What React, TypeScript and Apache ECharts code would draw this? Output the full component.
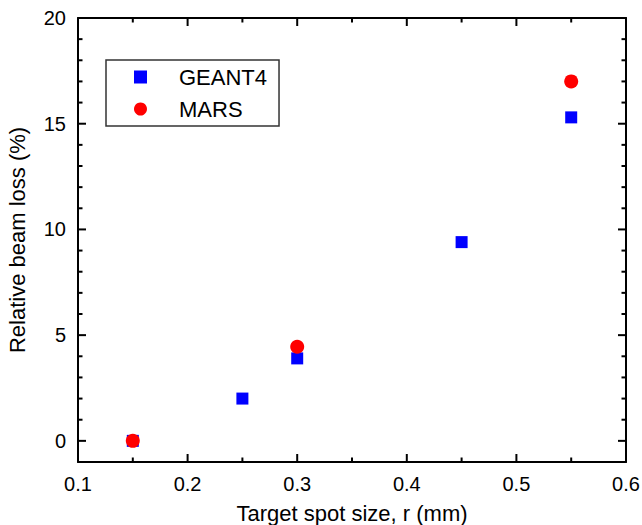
import React, { useEffect, useRef } from "react";
import * as echarts from "echarts";

const geantX = [0.15, 0.25, 0.3, 0.45, 0.55];
const geantY = [0, 2.0, 3.9, 9.4, 15.3];
const marsX = [0.15, 0.3, 0.55];
const marsY = [0, 4.45, 17.0];
const xMajorTicks = [0.1, 0.2, 0.3, 0.4, 0.5, 0.6];
const xMinorTicks = [0.15, 0.25, 0.35, 0.45, 0.55];
const yMajorTicks = [0, 5, 10, 15, 20];
const yMinorTicks = [-1, 1, 2, 3, 4, 6, 7, 8, 9, 11, 12, 13, 14, 16, 17, 18, 19];

const X_MIN = 0.1;
const X_MAX = 0.6;
const Y_MIN = -1;
const Y_MAX = 20;
const MAJOR_LEN = 8;
const MINOR_LEN = 4.5;

const FONT = "Liberation Sans, Arial, sans-serif";

export default function App() {
  const ref = useRef<HTMLDivElement>(null);
  useEffect(() => {
    document.body.style.margin = "0";
    if (!ref.current) return;
    const chart = echarts.init(ref.current, undefined, { renderer: "svg" });
    const axisLine = { show: true, onZero: false, lineStyle: { color: "#000", width: 2 } };
    const tickLine = { stroke: "#000", lineWidth: 2 };
    const xBase = {
      type: "value",
      min: X_MIN,
      max: X_MAX,
      interval: 0.1,
      axisLine,
      splitLine: { show: false },
      axisTick: { show: false },
    };
    const yBase = {
      type: "value",
      min: Y_MIN,
      max: Y_MAX,
      axisLine,
      splitLine: { show: false },
      axisTick: { show: false },
    };
    const xTickData = [
      ...xMajorTicks.map((v) => [v, 0, MAJOR_LEN]),
      ...xMinorTicks.map((v) => [v, 0, MINOR_LEN]),
    ];
    const yTickData = [
      ...yMajorTicks.map((v) => [X_MIN, v, MAJOR_LEN]),
      ...yMinorTicks.map((v) => [X_MIN, v, MINOR_LEN]),
    ];
    chart.setOption({
      animation: false,
      textStyle: { fontFamily: FONT },
      grid: { left: 78, right: 16, top: 18, bottom: 63, outerBoundsMode: "none", containLabel: false },
      legend: {
        left: 106,
        top: 60,
        orient: "vertical",
        borderColor: "#333",
        borderWidth: 1.5,
        padding: [6, 12, 6, 28],
        itemGap: 10,
        itemWidth: 13,
        itemHeight: 13,
        itemTextGap: 6,
        textStyle: { fontSize: 22, color: "#000", fontFamily: FONT, padding: [0, 0, 0, 27] },
        data: [
          { name: "GEANT4", icon: "rect" },
          { name: "MARS", icon: "circle" },
        ],
      },
      xAxis: [
        {
          ...xBase,
          position: "bottom",
          name: "Target spot size, r (mm)",
          nameLocation: "middle",
          nameGap: 40,
          nameTextStyle: { fontSize: 22, color: "#000", fontFamily: FONT },
          axisLabel: { show: true, margin: 12, fontSize: 20, color: "#000", fontFamily: FONT, formatter: (v: number) => v.toFixed(1) },
        },
        { ...xBase, position: "top", axisLabel: { show: false } },
      ],
      yAxis: [
        {
          ...yBase,
          position: "left",
          name: "Relative beam loss (%)",
          nameLocation: "middle",
          nameGap: 50,
          nameTextStyle: { fontSize: 22, color: "#000", fontFamily: FONT },
          axisLabel: {
            show: true,
            margin: 12,
            fontSize: 20,
            color: "#000",
            fontFamily: FONT,
            formatter: (v: number) => (v < 0 ? "" : String(v)),
          },
        },
        { ...yBase, position: "right", axisLabel: { show: false } },
      ],
      series: [
        {
          name: "xTicks",
          type: "custom",
          clip: false,
          silent: true,
          z: 1,
          data: xTickData,
          renderItem: (params: any, api: any) => {
            const v = api.value(0);
            const len = api.value(2);
            const b = api.coord([v, Y_MIN]);
            const t = api.coord([v, Y_MAX]);
            return {
              type: "group",
              children: [
                { type: "line", shape: { x1: b[0], y1: b[1], x2: b[0], y2: b[1] - len }, style: tickLine },
                { type: "line", shape: { x1: t[0], y1: t[1], x2: t[0], y2: t[1] + len }, style: tickLine },
              ],
            };
          },
        },
        {
          name: "yTicks",
          type: "custom",
          clip: false,
          silent: true,
          z: 1,
          data: yTickData,
          renderItem: (params: any, api: any) => {
            const v = api.value(1);
            const len = api.value(2);
            const l = api.coord([X_MIN, v]);
            const r = api.coord([X_MAX, v]);
            return {
              type: "group",
              children: [
                { type: "line", shape: { x1: l[0], y1: l[1], x2: l[0] + len, y2: l[1] }, style: tickLine },
                { type: "line", shape: { x1: r[0], y1: r[1], x2: r[0] - len, y2: r[1] }, style: tickLine },
              ],
            };
          },
        },
        {
          name: "GEANT4",
          type: "scatter",
          symbol: "rect",
          symbolSize: 12,
          z: 3,
          itemStyle: { color: "#0000ff", opacity: 1 },
          data: geantX.map((x, i) => [x, geantY[i]]),
        },
        {
          name: "MARS",
          type: "scatter",
          symbol: "circle",
          symbolSize: 14,
          z: 4,
          itemStyle: { color: "#ff0000", opacity: 1 },
          data: marsX.map((x, i) => [x, marsY[i]]),
        },
      ],
    });
    return () => chart.dispose();
  }, []);
  return <div ref={ref} style={{ width: 642, height: 525 }} />;
}
